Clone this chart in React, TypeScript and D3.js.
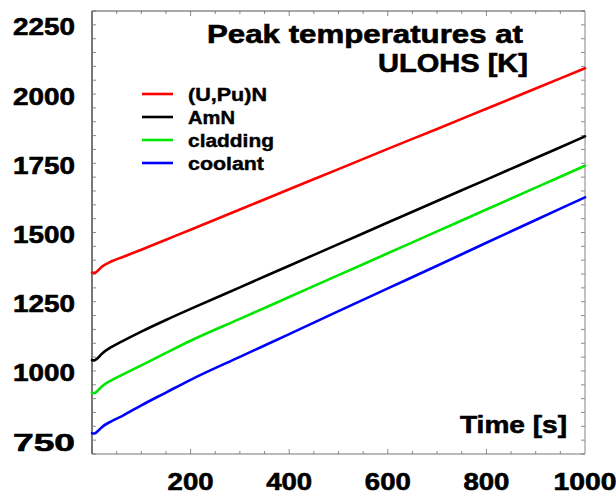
import React from "react";
import * as d3 from "d3";

const times = [0, 5, 10, 20, 40, 60, 100, 150, 200, 300, 400, 500, 600, 700, 800, 900, 1000];
const upuN = [1355, 1354, 1359, 1376, 1396, 1410, 1438, 1474, 1510, 1583, 1656, 1729, 1802, 1874, 1947, 2020, 2093];
const amN = [1039, 1038, 1044, 1062, 1087, 1106, 1142, 1184, 1224, 1302, 1380, 1458, 1536, 1614, 1691, 1769, 1847];
const cladding = [921, 920, 926, 944, 967, 985, 1020, 1065, 1109, 1188, 1267, 1346, 1425, 1504, 1583, 1662, 1741];
const coolant = [775, 774, 780, 797, 819, 836, 876, 922, 968, 1051, 1133, 1216, 1298, 1380, 1463, 1545, 1627];

const seriesNames = ["(U,Pu)N", "AmN", "cladding", "coolant"];
const seriesValues = [upuN, amN, cladding, coolant];
const seriesColors = ["#ff0000", "#000000", "#00e600", "#0000ff"];
const legendWidths = [79, 47, 86, 76];

const yTicks = [750, 1000, 1250, 1500, 1750, 2000, 2250];
const xTicks = [200, 400, 600, 800, 1000];

const FONT = "'Liberation Sans', Arial, Helvetica, sans-serif";

export default function App() {
  const W = 616, H = 496;
  const left = 92, right = 585, top = 11, bottom = 454;
  const x = d3.scaleLinear().domain([0, 1000]).range([left, right]);
  const y = d3.scaleLinear().domain([700, 2300]).range([bottom, top]);
  const line = d3
    .line<[number, number]>()
    .x((d) => x(d[0]))
    .y((d) => y(d[1]))
    .curve(d3.curveMonotoneX);

  const yMinor = d3.range(700, 2301, 50);
  const xMinor = d3.range(50, 1000, 50);
  const textStroke = { stroke: "#000", strokeWidth: 0.6 };

  return (
    <svg
      width={W}
      height={H}
      style={{ position: "absolute", left: 0, top: 0, background: "#fff" }}
      fontFamily={FONT}
      fontWeight="bold"
    >
      <rect x={0} y={0} width={W} height={H} fill="#fff" />
      {yMinor.map((v) => (
        <g key={"y" + v}>
          <line x1={left} x2={left + 4} y1={y(v)} y2={y(v)} stroke="#8a8a8a" strokeWidth={1} />
          <line x1={right} x2={right - 4} y1={y(v)} y2={y(v)} stroke="#8a8a8a" strokeWidth={1} />
        </g>
      ))}
      {xMinor.map((v) => {
        const len = v % 200 === 0 ? 5 : 3;
        return (
          <g key={"x" + v}>
            <line x1={x(v)} x2={x(v)} y1={bottom} y2={bottom - len} stroke="#8a8a8a" strokeWidth={1} />
            <line x1={x(v)} x2={x(v)} y1={top} y2={top + len} stroke="#8a8a8a" strokeWidth={1} />
          </g>
        );
      })}
      <line x1={left} x2={right} y1={top} y2={top} stroke="#555" strokeWidth={1.2} />
      <line x1={left} x2={right} y1={bottom} y2={bottom} stroke="#777" strokeWidth={1.2} />
      <line x1={left} x2={left} y1={top} y2={bottom} stroke="#777" strokeWidth={2} />
      <line x1={right} x2={right} y1={top} y2={bottom} stroke="#999" strokeWidth={1.2} />

      {seriesValues.map((vals, i) => (
        <path
          key={seriesNames[i]}
          d={line(times.map((t, j) => [t, vals[j]] as [number, number])) || ""}
          fill="none"
          stroke={seriesColors[i]}
          strokeWidth={2.6}
          strokeLinejoin="round"
          strokeLinecap="round"
        />
      ))}

      {yTicks.map((v) => (
        <text
          key={"yl" + v}
          x={75}
          y={y(v) + 10.5}
          textAnchor="end"
          fontSize={24}
          textLength={62}
          lengthAdjust="spacingAndGlyphs"
          fill="#000"
          {...textStroke}
        >
          {v}
        </text>
      ))}
      {xTicks.map((v) => {
        const s = String(v);
        return (
          <text
            key={"xl" + v}
            x={x(v)}
            y={490}
            textAnchor="middle"
            fontSize={24}
            textLength={s.length === 4 ? 63 : 46}
            lengthAdjust="spacingAndGlyphs"
            fill="#000"
            {...textStroke}
          >
            {s}
          </text>
        );
      })}

      <text x={207} y={43} fontSize={25} textLength={316} lengthAdjust="spacingAndGlyphs" fill="#000" {...textStroke}>
        Peak temperatures at
      </text>
      <text x={378} y={72} fontSize={25} textLength={150} lengthAdjust="spacingAndGlyphs" fill="#000" {...textStroke}>
        ULOHS [K]
      </text>

      <text x={460} y={433} fontSize={24} textLength={107} lengthAdjust="spacingAndGlyphs" fill="#000" {...textStroke}>
        Time [s]
      </text>

      {seriesNames.map((name, i) => {
        const cy = 94 + i * 23;
        return (
          <g key={"lg" + name}>
            <line x1={142} x2={173} y1={cy} y2={cy} stroke={seriesColors[i]} strokeWidth={2.6} />
            <text
              x={188}
              y={cy + 6.5}
              fontSize={18}
              textLength={legendWidths[i]}
              lengthAdjust="spacingAndGlyphs"
              fill="#000"
              stroke="#000"
              strokeWidth={0.4}
            >
              {name}
            </text>
          </g>
        );
      })}
    </svg>
  );
}
